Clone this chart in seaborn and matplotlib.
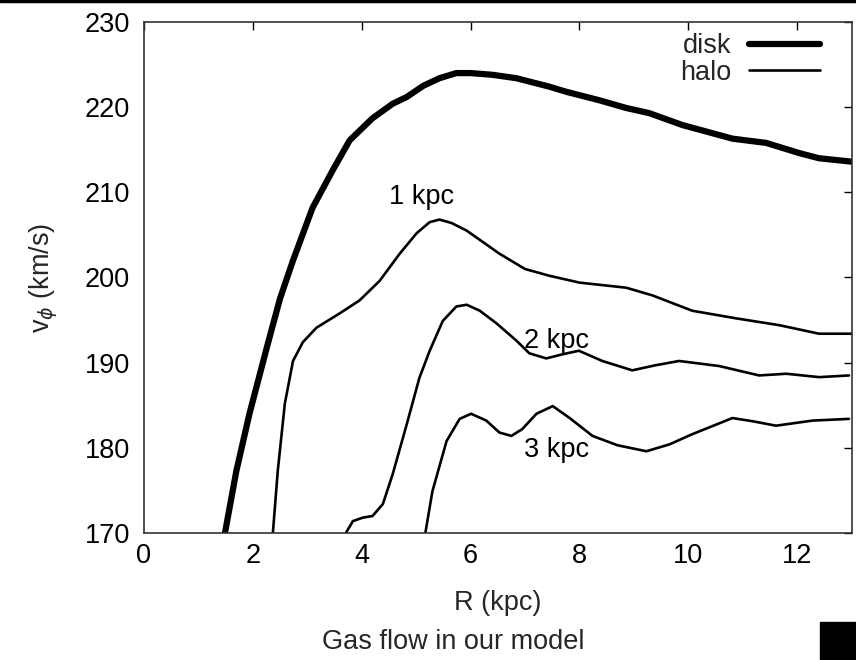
import numpy as np
import pandas as pd
import matplotlib
matplotlib.use("Agg")
import matplotlib.pyplot as plt
import seaborn as sns

# ---- data ----
disk_R = [1.49, 1.70, 1.94, 2.26, 2.50, 2.74, 3.10, 3.47, 3.78, 4.20, 4.57, 4.83, 5.13, 5.43,
          5.74, 6.00, 6.40, 6.84, 7.45, 7.76, 8.37, 8.86, 9.28, 9.89, 10.81, 11.43, 12.04,
          12.40, 13.0]
disk_v = [170.0, 177.3, 184.0, 191.8, 197.5, 202.0, 208.2, 212.6, 216.1, 218.7, 220.4, 221.2, 222.5, 223.4,
          224.0, 224.0, 223.8, 223.4, 222.4, 221.8, 220.8, 219.9, 219.3, 217.9, 216.3, 215.8, 214.6,
          214.0, 213.6]

h1_R = [2.37, 2.46, 2.59, 2.74, 2.92, 3.17, 3.60, 3.96, 4.33, 4.70, 5.01, 5.25, 5.43, 5.65,
        5.93, 6.53, 7.00, 7.45, 8.00, 8.86, 9.34, 10.07, 10.88, 11.67, 12.40, 13.0]
h1_v = [170.0, 177.3, 185.2, 190.2, 192.4, 194.1, 195.8, 197.3, 199.6, 202.8, 205.2, 206.5, 206.8, 206.4,
        205.5, 202.8, 201.0, 200.2, 199.4, 198.8, 197.9, 196.1, 195.2, 194.4, 193.4, 193.4]

h2_R = [3.71, 3.84, 4.02, 4.20, 4.39, 4.57, 4.83, 5.06, 5.25, 5.49, 5.74, 5.93, 6.17, 6.48,
        6.84, 7.08, 7.39, 7.70, 7.99, 8.42, 8.97, 9.40, 9.83, 10.57, 11.30, 11.80, 12.40, 12.95]
h2_v = [170.0, 171.4, 171.8, 172.0, 173.4, 176.9, 182.8, 188.2, 191.4, 194.9, 196.6, 196.8, 196.1, 194.6,
        192.6, 191.1, 190.5, 191.0, 191.4, 190.2, 189.1, 189.7, 190.2, 189.6, 188.5, 188.7, 188.3, 188.5]

h3_R = [5.17, 5.30, 5.56, 5.80, 6.01, 6.29, 6.53, 6.75, 6.95, 7.21, 7.51, 7.82, 8.24, 8.70,
        9.23, 9.65, 10.07, 10.81, 11.20, 11.61, 12.28, 12.95]
h3_v = [170.0, 174.9, 180.8, 183.4, 184.0, 183.2, 181.8, 181.4, 182.2, 184.0, 184.9, 183.5, 181.4, 180.3,
        179.6, 180.4, 181.6, 183.5, 183.1, 182.6, 183.2, 183.4]

labels = ["1 kpc", "2 kpc", "3 kpc"]
label_R = [5.1, 7.58, 7.58]
label_v = [209.4, 192.6, 179.8]

x_ticks = [0, 2, 4, 6, 8, 10, 12]
y_ticks = [170, 180, 190, 200, 210, 220, 230]

sns.set_theme(style="white")
plt.rcParams['font.family'] = ['Liberation Sans', 'DejaVu Sans']

FS = 19.5
fig = plt.figure(figsize=(8.56, 6.6), dpi=100)
ax = fig.add_axes([0.168, 0.1924, 0.827, 0.7743])

def frame(R, v, name):
    return pd.DataFrame({"R": R, "v": v, "series": name})

sns.lineplot(data=frame(disk_R, disk_v, "disk"), x="R", y="v", ax=ax, color="black",
             lw=4.5, sort=False, label="disk")
sns.lineplot(data=frame(h1_R, h1_v, "halo1"), x="R", y="v", ax=ax, color="black",
             lw=1.9, sort=False, label="halo")
sns.lineplot(data=frame(h2_R, h2_v, "halo2"), x="R", y="v", ax=ax, color="black",
             lw=1.9, sort=False, label="_nolegend_")
sns.lineplot(data=frame(h3_R, h3_v, "halo3"), x="R", y="v", ax=ax, color="black",
             lw=1.9, sort=False, label="_nolegend_")

for t, xr, yv in zip(labels, label_R, label_v):
    ax.text(xr, yv, t, fontsize=FS, ha="center", va="center", color="black")

ax.set_xlim(0, 13)
ax.set_ylim(170, 230)
ax.set_xticks(x_ticks)
ax.set_yticks(y_ticks)
ax.tick_params(direction="in", length=6, width=1, top=True, right=True,
               labelsize=FS, colors="black")
ax.tick_params(axis="x", pad=7)
ax.tick_params(axis="y", pad=10)
for s in ax.spines.values():
    s.set_visible(True)
    s.set_color("#333333")
    s.set_linewidth(1.2)

ax.set_xlabel("R (kpc)", fontsize=FS, labelpad=15)
ax.set_ylabel(r"v$_\phi$ (km/s)", fontsize=FS, labelpad=18)

leg = ax.legend(loc="upper right", bbox_to_anchor=(0.955, 0.978), frameon=False,
                markerfirst=False, fontsize=FS, handlelength=2.6, borderaxespad=0.0,
                labelspacing=0.02, handletextpad=0.65, borderpad=0.0)

fig.text(0.530, 0.028, "Gas flow in our model", fontsize=FS, ha="center", va="center")
fig.patches.append(plt.Rectangle((0.958, 0.0), 0.042, 0.058, transform=fig.transFigure,
                                 color="black", zorder=5))
fig.add_artist(plt.Line2D([0, 1], [0.998, 0.998], transform=fig.transFigure, color="black", lw=2.5))

fig.savefig("out.png", dpi=100)
